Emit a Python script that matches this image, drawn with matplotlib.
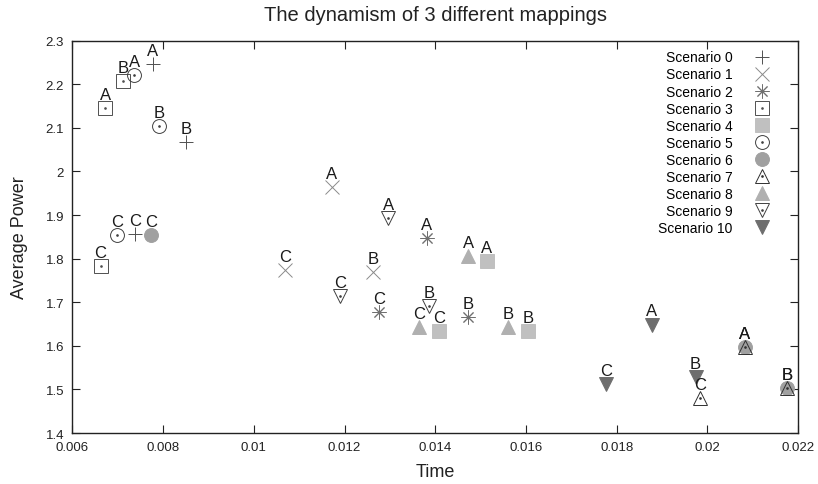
import matplotlib
matplotlib.use("Agg")
import matplotlib.pyplot as plt
from matplotlib.ticker import FuncFormatter, MultipleLocator
from matplotlib.legend_handler import HandlerTuple

plt.rcParams['font.family'] = ['Liberation Sans', 'DejaVu Sans']

# point labels (same order for every scenario)
point_labels = ["A", "B", "C"]

# values (time, average power) for A, B, C
s0_time = [0.00777, 0.00850, 0.00738]
s0_power = [2.247, 2.067, 1.857]
s1_time = [0.01172, 0.01263, 0.01069]
s1_power = [1.964, 1.770, 1.775]
s2_time = [0.01381, 0.01473, 0.01277]
s2_power = [1.847, 1.666, 1.677]
s3_time = [0.00672, 0.00711, 0.00662]
s3_power = [2.145, 2.208, 1.783]
s4_time = [0.01513, 0.01605, 0.01409]
s4_power = [1.794, 1.634, 1.633]
s5_time = [0.00736, 0.00791, 0.00698]
s5_power = [2.222, 2.105, 1.854]
s6_time = [0.02083, 0.02175, 0.00773]
s6_power = [1.597, 1.503, 1.854]
s7_time = [0.02083, 0.02175, 0.01984]
s7_power = [1.597, 1.503, 1.480]
s8_time = [0.01473, 0.01561, 0.01364]
s8_power = [1.807, 1.643, 1.643]
s9_time = [0.01296, 0.01387, 0.01190]
s9_power = [1.893, 1.692, 1.715]
s10_time = [0.01877, 0.01974, 0.01776]
s10_power = [1.649, 1.528, 1.513]

scenario_names = ["Scenario %d" % i for i in range(11)]
times = [s0_time, s1_time, s2_time, s3_time, s4_time, s5_time,
         s6_time, s7_time, s8_time, s9_time, s10_time]
powers = [s0_power, s1_power, s2_power, s3_power, s4_power, s5_power,
          s6_power, s7_power, s8_power, s9_power, s10_power]

# gnuplot-like point styles: (marker, colour, filled, centre dot)
styles = [
    ('+', '#505050', False, False),
    ('x', '#8a8a8a', False, False),
    ((8, 2, 0), '#707070', False, False),
    ('s', '#505050', False, True),
    ('s', '#c0c0c0', True, False),
    ('o', '#404040', False, True),
    ('o', '#a0a0a0', True, False),
    ('^', '#303030', False, True),
    ('^', '#b0b0b0', True, False),
    ('v', '#404040', False, True),
    ('v', '#6e6e6e', True, False),
]

fig, ax = plt.subplots(figsize=(8.18, 4.85), dpi=100)
fig.subplots_adjust(left=0.0886, right=0.9756, top=0.914, bottom=0.105)

handles = []
for name, t, p, (mk, col, filled, dot) in zip(scenario_names, times, powers, styles):
    if filled:
        h, = ax.plot(t, p, linestyle='none', marker=mk, markersize=10,
                     color=col, markeredgecolor=col, markeredgewidth=0.7)
    else:
        h, = ax.plot(t, p, linestyle='none', marker=mk, markersize=10,
                     markerfacecolor='none', markeredgecolor=col,
                     markeredgewidth=0.7)
    if dot:
        d, = ax.plot(t, p, linestyle='none', marker='o', markersize=0.9,
                     color=col)
        handles.append((h, d))
    else:
        handles.append(h)
    for lab, x, y in zip(point_labels, t, p):
        ax.annotate(lab, (x, y), xytext=(0, 6.5), textcoords='offset points',
                    ha='center', va='baseline', fontsize=12, color='#1a1a1a')

ax.set_xlim(0.006, 0.022)
ax.set_ylim(1.4, 2.3)
ax.xaxis.set_major_locator(MultipleLocator(0.002))
ax.yaxis.set_major_locator(MultipleLocator(0.1))
ax.xaxis.set_major_formatter(FuncFormatter(lambda v, pos: '%g' % round(v, 4)))
ax.yaxis.set_major_formatter(FuncFormatter(lambda v, pos: '%g' % round(v, 2)))
ax.tick_params(direction='in', length=6, width=0.8, top=True, right=True,
               labelsize=9.5, colors='#222222')
ax.tick_params(axis='x', pad=6)
ax.tick_params(axis='y', pad=6)
for sp in ax.spines.values():
    sp.set_linewidth(1.0)
    sp.set_color('#222222')

ax.set_title('The dynamism of 3 different mappings', fontsize=14.5, pad=15,
             color='#222222')
ax.set_xlabel('Time', fontsize=13, color='#222222', labelpad=7)
ax.set_ylabel('Average Power', fontsize=13, color='#222222', labelpad=13)

ax.legend(handles, scenario_names, loc='upper right', frameon=False,
          markerfirst=False, fontsize=10, labelspacing=0.22,
          handlelength=1.2, handletextpad=1.5, borderaxespad=0.3,
          bbox_to_anchor=(0.975, 1.0),
          handler_map={tuple: HandlerTuple(ndivide=1, pad=0)})

fig.savefig('out.png', dpi=100)
